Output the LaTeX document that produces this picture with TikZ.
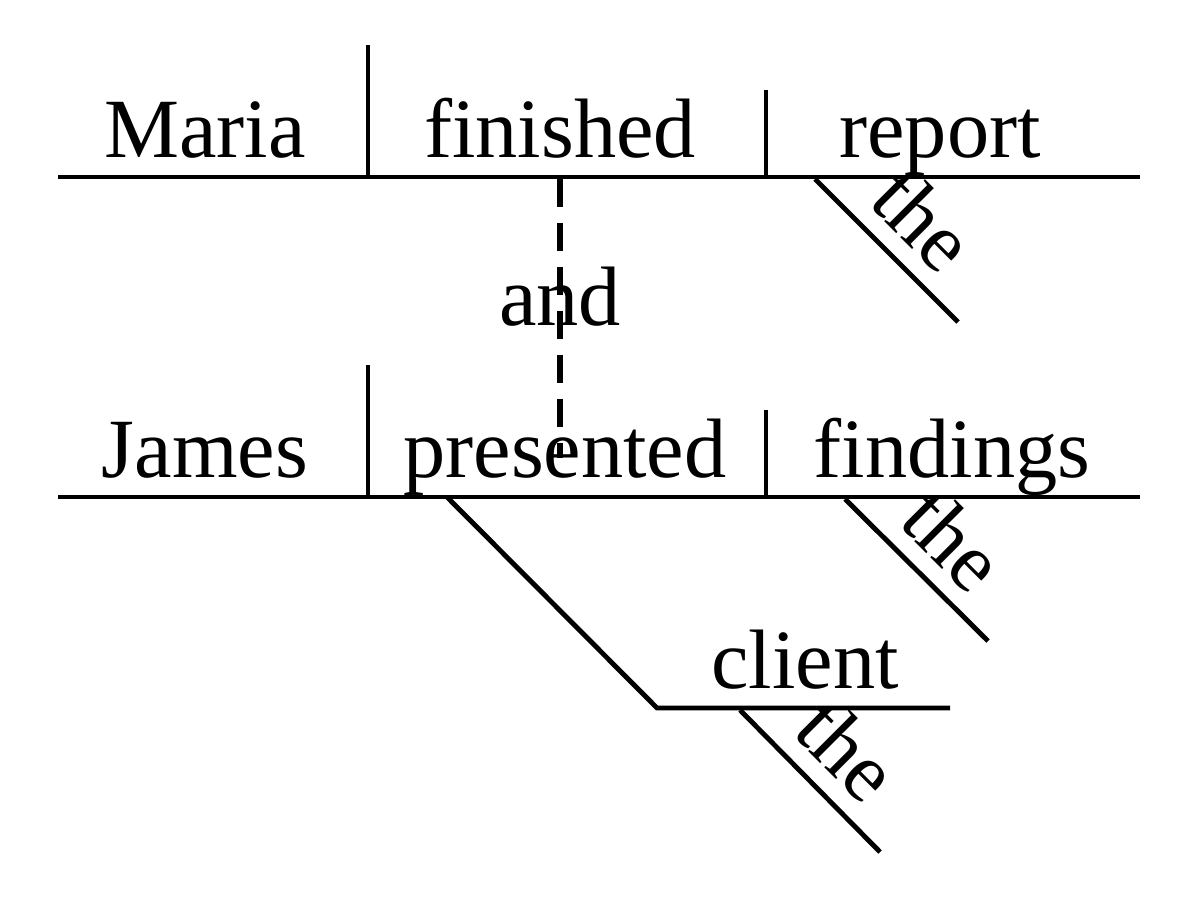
\documentclass[tikz,border=0pt]{standalone}
\usepackage{fontspec}
\setmainfont{Liberation Serif}
\usetikzlibrary{positioning}
\tikzset{word/.style = {font=\fontsize{48}{56}\selectfont, inner sep=0pt, anchor=base},
         rule/.style = {line width=2.8pt},
         slant/.style = {font=\fontsize{48}{56}\selectfont, rotate=-45, inner sep=0pt}}

\begin{document}
\begin{tikzpicture}[x=0.02cm, y=-0.02cm]
    \useasboundingbox (0, 0) rectangle (1200, 896);

    % first clause
    \draw [rule] (58, 177) -- (1140, 177);
    \draw [rule] (368, 45) -- (368, 177);
    \draw [rule] (766, 90) -- (766, 177);
    \node [word] (maria) at (205, 157) {Maria};
    \node [word] (finished) at (560, 157) {finished};
    \node [word] (report) at (940, 157) {report};
    \coordinate (the1a) at (815, 179);
    \coordinate (the1b) at (958, 322);
    \draw [rule] (the1a) -- (the1b);
    \node [slant] (the1) at (924, 220) {the};

    % conjunction
    \coordinate (dashtop) at (560, 179);
    \coordinate (dashbot) at (560, 458);
    \draw [line width=3.2pt, dash pattern=on 16pt off 9pt] (dashtop) -- (dashbot);
    \node [word] (and) at (560, 325) {and};

    % second clause
    \draw [rule] (58, 497) -- (1140, 497);
    \draw [rule] (368, 365) -- (368, 497);
    \draw [rule] (766, 410) -- (766, 497);
    \node [word] (james) at (205, 477) {James};
    \node [word] (presented) at (565, 477) {presented};
    \node [word] (findings) at (952, 477) {findings};
    \coordinate (the2a) at (845, 499);
    \coordinate (the2b) at (988, 641);
    \draw [rule] (the2a) -- (the2b);
    \node [slant] (the2) at (954, 540) {the};

    % indirect object
    \coordinate (ioa) at (447, 497);
    \coordinate (iob) at (657, 708);
    \coordinate (ioc) at (950, 708);
    \draw [rule] (ioa) -- (iob) -- (ioc);
    \node [word] (client) at (805, 688) {client};
    \coordinate (the3a) at (740, 710);
    \coordinate (the3b) at (880, 852);
    \draw [rule] (the3a) -- (the3b);
    \node [slant] (the3) at (848, 750) {the};
\end{tikzpicture}
\end{document}
